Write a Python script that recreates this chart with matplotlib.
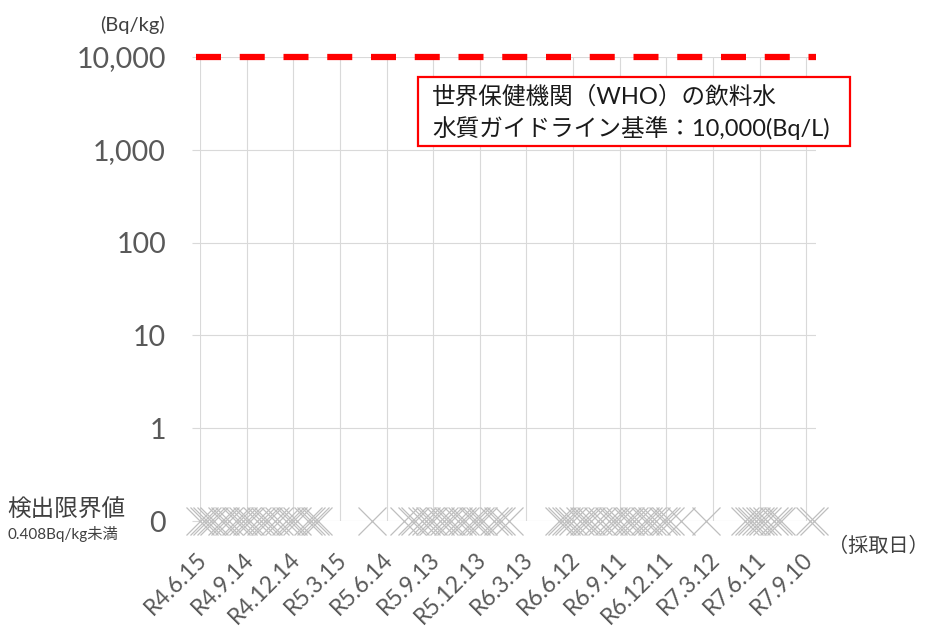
import matplotlib
matplotlib.use("Agg")
import matplotlib.pyplot as plt
import matplotlib.dates as mdates
import matplotlib.patches as patches
import matplotlib.transforms as mtransforms
from matplotlib.ticker import NullLocator, FixedLocator, FixedFormatter
import datetime as dt

plt.rcParams['font.family'] = ['Lato', 'Noto Sans CJK JP', 'DejaVu Sans']

# sampling dates (all results below detection limit -> plotted at the "0" row)
sample_dates = [
    "2022-06-15", "2022-06-22", "2022-06-29", "2022-07-06", "2022-07-13", "2022-07-27",
    "2022-08-03", "2022-08-10", "2022-08-24", "2022-08-31", "2022-09-07", "2022-09-14",
    "2022-09-21", "2022-10-05", "2022-10-12", "2022-10-19", "2022-10-26", "2022-11-09",
    "2022-11-16", "2022-11-30", "2022-12-07", "2022-12-14", "2022-12-21", "2023-01-11",
    "2023-01-18", "2023-01-25", "2023-02-01",
    "2023-05-17",
    "2023-07-19", "2023-08-02", "2023-08-09", "2023-08-23", "2023-08-30", "2023-09-06",
    "2023-09-13", "2023-09-27", "2023-10-04", "2023-10-11", "2023-10-18", "2023-11-01",
    "2023-11-08", "2023-11-15", "2023-11-29", "2023-12-06", "2023-12-13", "2023-12-20",
    "2024-01-10", "2024-01-17", "2024-01-24", "2024-02-07",
    "2024-05-15", "2024-05-22", "2024-05-29", "2024-06-05", "2024-06-12", "2024-06-26",
    "2024-07-03", "2024-07-10", "2024-07-17", "2024-07-31", "2024-08-07", "2024-08-21",
    "2024-08-28", "2024-09-04", "2024-09-11", "2024-09-25", "2024-10-02", "2024-10-09",
    "2024-10-16", "2024-10-30", "2024-11-06", "2024-11-13", "2024-11-20", "2024-12-04",
    "2024-12-11", "2024-12-18", "2025-01-08", "2025-02-26",
    "2025-05-14", "2025-05-21", "2025-05-28", "2025-06-04", "2025-06-11", "2025-06-18",
    "2025-06-25", "2025-07-09", "2025-07-16", "2025-07-23", "2025-09-17", "2025-09-26",
]
results = ["ND"] * len(sample_dates)   # 検出限界値未満

tick_dates = ["2022-06-15", "2022-09-14", "2022-12-14", "2023-03-15", "2023-06-14",
              "2023-09-13", "2023-12-13", "2024-03-13", "2024-06-12", "2024-09-11",
              "2024-12-11", "2025-03-12", "2025-06-11", "2025-09-10"]
tick_labels = ["R4.6.15", "R4.9.14", "R4.12.14", "R5.3.15", "R5.6.14", "R5.9.13",
               "R5.12.13", "R6.3.13", "R6.6.12", "R6.9.11", "R6.12.11", "R7.3.12",
               "R7.6.11", "R7.9.10"]

y_ticks = [0.1, 1, 10, 100, 1000, 10000]
y_labels = ["0", "1", "10", "100", "1,000", "10,000"]
who_guideline = 10000
nd_level = 0.1

W, H = 931, 628
fig = plt.figure(figsize=(W / 100, H / 100), dpi=100)
ax = fig.add_axes([200 / W, 1 - 521 / H, 616 / W, 464 / H])

def to_dt(s):
    return dt.datetime.strptime(s, "%Y-%m-%d")

xs = [to_dt(d) for d in sample_dates]
ys = [nd_level if r == "ND" else r for r in results]

ax.set_yscale('log')
ax.set_ylim(0.1, 10000)
ax.set_xlim(to_dt("2022-06-15"), to_dt("2025-09-29"))

ax.yaxis.set_major_locator(FixedLocator(y_ticks))
ax.yaxis.set_major_formatter(FixedFormatter(y_labels))
ax.yaxis.set_minor_locator(NullLocator())
ax.xaxis.set_major_locator(FixedLocator(mdates.date2num([to_dt(d) for d in tick_dates])))
ax.xaxis.set_major_formatter(FixedFormatter(tick_labels))
ax.xaxis.set_minor_locator(NullLocator())

for s in ax.spines.values():
    s.set_visible(False)
ax.grid(True, color='#D9D9D9', lw=0.8)
ax.set_axisbelow(True)

ax.tick_params(axis='y', length=5.5, width=0.8, color='#D9D9D9', pad=19,
               labelsize=20.5, labelcolor='#595959')
ax.tick_params(axis='x', length=0, pad=20, labelsize=16.5, labelcolor='#595959')
shift = mtransforms.ScaledTranslation(-4 / 100, 0, fig.dpi_scale_trans)
for lab in ax.get_xticklabels():
    lab.set_rotation(45)
    lab.set_ha('right')
    lab.set_va('top')
    lab.set_rotation_mode('anchor')
    lab.set_transform(lab.get_transform() + shift)

ax.plot(xs, ys, ls='none', marker='x', ms=20, mew=0.9, color='#BFBFBF',
        clip_on=False, zorder=3)

ax.axhline(who_guideline, xmin=-0.006, xmax=1, color='#FF0000', lw=4.5,
           dashes=(4, 3), clip_on=False, zorder=4)

def fx(x):
    return x / W

def fy(y):
    return 1 - y / H

fig.text(fx(165), fy(25), "(Bq/kg)", ha='right', va='center', fontsize=14.5, color='#404040')
fig.text(fx(7), fy(510), "検出限界値", ha='left', va='center', fontsize=17, color='#404040')
fig.text(fx(8), fy(534), "0.408Bq/kg未満", ha='left', va='center', fontsize=11, color='#404040')
fig.text(fx(828), fy(545), "（採取日）", ha='left', va='center', fontsize=14.5, color='#404040')

box = patches.Rectangle((fx(418), fy(146)), fx(850) - fx(418), fy(77) - fy(146),
                        transform=fig.transFigure, fill=True, facecolor='white',
                        edgecolor='#FF0000', lw=1.6, zorder=5)
fig.add_artist(box)
fig.text(fx(432), fy(97), "世界保健機関（WHO）の飲料水", ha='left', va='center',
         fontsize=17, color='#1a1a1a', zorder=6)
fig.text(fx(432), fy(128), "水質ガイドライン基準：10,000(Bq/L)", ha='left', va='center',
         fontsize=17, color='#1a1a1a', zorder=6)

fig.savefig("out.png", dpi=100)
